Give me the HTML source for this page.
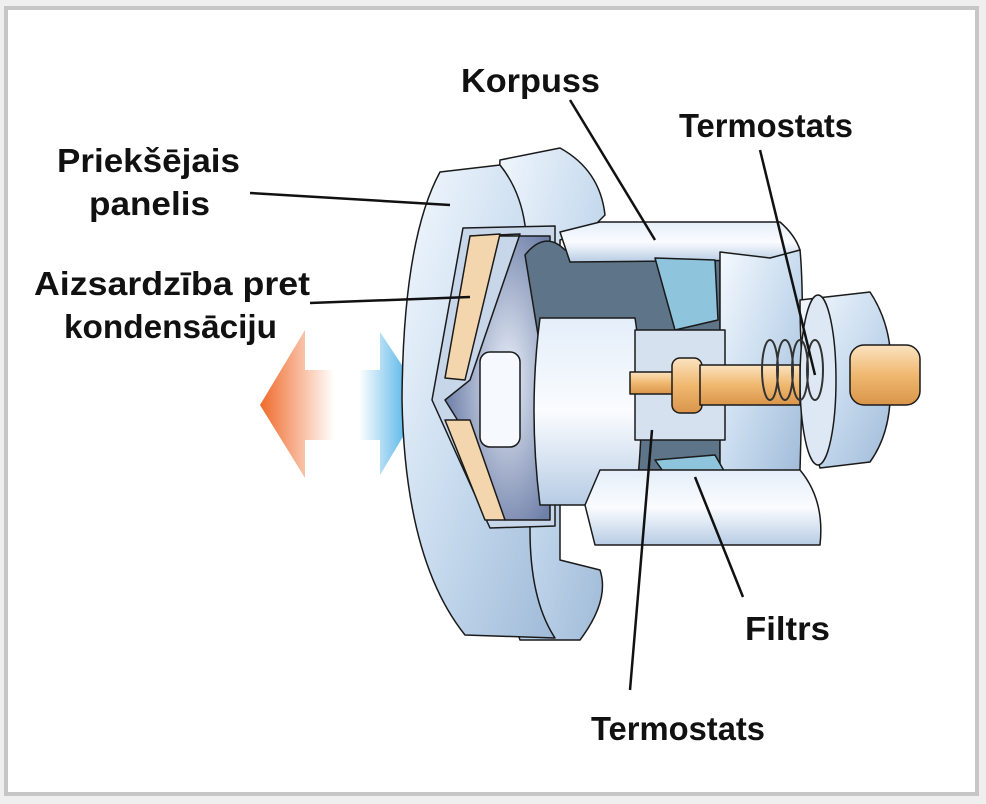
<!DOCTYPE html>
<html><head><meta charset="utf-8"><style>
html,body{margin:0;padding:0;background:#efefef;}
svg{display:block;}
text{font-family:"Liberation Sans",Arial,sans-serif;font-weight:bold;font-size:33px;fill:#111;}
</style></head><body>
<svg width="986" height="804" viewBox="0 0 986 804">
<defs>
<linearGradient id="arr" x1="0" x2="1" y1="0" y2="0">
<stop offset="0" stop-color="#ef6a2a"/><stop offset="0.45" stop-color="#fff"/><stop offset="0.6" stop-color="#fff"/><stop offset="1" stop-color="#1a9be0"/></linearGradient>
<linearGradient id="blu" x1="0" x2="1" y1="0" y2="1">
<stop offset="0" stop-color="#f4f9fe"/><stop offset="0.5" stop-color="#c9dcef"/><stop offset="1" stop-color="#9fbad8"/></linearGradient>
<linearGradient id="blu2" x1="0" x2="0" y1="0" y2="1">
<stop offset="0" stop-color="#e4eef9"/><stop offset="0.5" stop-color="#fafcff"/><stop offset="1" stop-color="#b7cce4"/></linearGradient>
<linearGradient id="brass" x1="0" x2="0" y1="0" y2="1">
<stop offset="0" stop-color="#fbe3c0"/><stop offset="0.5" stop-color="#f0b870"/><stop offset="1" stop-color="#d9954a"/></linearGradient>
<radialGradient id="cav" cx="0.6" cy="0.5" r="0.6">
<stop offset="0" stop-color="#e8eef8"/><stop offset="1" stop-color="#6e7fa8"/></radialGradient>
</defs>
<rect x="0" y="0" width="986" height="804" fill="#efefef"/>
<rect x="6" y="8" width="971" height="786" fill="#fff" stroke="#c6c6c6" stroke-width="4"/>

<!-- arrow -->
<path d="M260,405 L305,330 L305,370 L380,370 L380,332 L425,400 L380,475 L380,440 L305,440 L305,478 Z" fill="url(#arr)"/>

<g stroke="#1a1a1a" stroke-width="1.5" stroke-linejoin="round">
<path d="M500,160 L560,148 Q600,170 605,215 L590,230 L560,240 L560,560 L600,570 Q610,600 580,640 L520,640 Q480,520 490,380 Q495,240 500,160 Z" fill="url(#blu)"/>
<path d="M440,172 L500,165 Q520,190 525,225 L530,270 L530,530 Q530,600 555,638 L465,635 Q405,560 402,400 Q403,240 440,172 Z" fill="url(#blu)"/>
<path d="M463,228 L555,226 L555,526 L490,528 L432,400 Z" fill="#c8d6ea"/>
<path d="M470,236 L520,234 L470,380 L445,400 L470,440 L505,520 L550,520 L550,236 Z" fill="url(#cav)"/>
<path d="M470,236 L500,234 L465,380 L445,378 Z M445,420 L470,420 L505,520 L485,520 Z" fill="#f3d6ad"/>
<rect x="480" y="352" width="40" height="95" rx="10" fill="#f6f9fd"/>
<path d="M525,255 Q545,230 565,250 L720,252 L720,470 L560,470 Z" fill="#5e7488"/>
<path d="M560,232 L600,222 L780,222 Q795,235 800,250 L770,260 L570,262 Z" fill="url(#blu2)"/>
<path d="M720,252 L770,258 L800,250 Q805,300 800,470 L720,480 Z" fill="url(#blu)"/>
<path d="M655,258 L715,260 L718,320 L675,330 Z" fill="#8ec4dc"/>
<path d="M655,460 L715,455 L735,490 L680,495 Z" fill="#8ec4dc"/>
<path d="M540,318 L635,318 Q648,400 635,505 L540,505 Q528,410 540,318 Z" fill="url(#blu2)"/>
<path d="M635,330 L725,330 L725,440 L635,440 Z" fill="#d5e1ee"/>
<path d="M585,505 L600,470 L800,470 Q825,500 820,545 L595,545 Z" fill="url(#blu2)"/>
<path d="M800,300 L870,292 Q895,330 890,380 Q893,430 870,462 L820,468 Q800,400 800,300 Z" fill="url(#blu)"/>
<ellipse cx="818" cy="380" rx="18" ry="85" fill="#dde8f4"/>
<rect x="630" y="372" width="80" height="22" fill="url(#brass)"/>
<rect x="672" y="358" width="30" height="55" rx="8" fill="url(#brass)"/>
<rect x="700" y="365" width="100" height="40" fill="url(#brass)"/>
<rect x="850" y="345" width="70" height="60" rx="14" fill="url(#brass)"/>
</g>
<g fill="none" stroke="#333" stroke-width="2">
<ellipse cx="770" cy="370" rx="8" ry="30"/><ellipse cx="785" cy="370" rx="8" ry="30"/><ellipse cx="800" cy="370" rx="8" ry="30"/><ellipse cx="815" cy="370" rx="8" ry="30"/>
</g>

<g stroke="#111" stroke-width="2.5">
<line x1="570" y1="100" x2="655" y2="240"/>
<line x1="760" y1="150" x2="815" y2="375"/>
<line x1="250" y1="193" x2="450" y2="205"/>
<line x1="310" y1="303" x2="470" y2="297"/>
<line x1="743" y1="597" x2="695" y2="477"/>
<line x1="630" y1="690" x2="652" y2="430"/>
</g>

<text x="461" y="92" textLength="139" lengthAdjust="spacingAndGlyphs">Korpuss</text>
<text x="679" y="137" textLength="174" lengthAdjust="spacingAndGlyphs">Termostats</text>
<text x="57" y="172" textLength="183" lengthAdjust="spacingAndGlyphs">Priekšējais</text>
<text x="89" y="215" textLength="121" lengthAdjust="spacingAndGlyphs">panelis</text>
<text x="34" y="295" textLength="276" lengthAdjust="spacingAndGlyphs">Aizsardzība pret</text>
<text x="64" y="338" textLength="213" lengthAdjust="spacingAndGlyphs">kondensāciju</text>
<text x="745" y="640" textLength="85" lengthAdjust="spacingAndGlyphs">Filtrs</text>
<text x="591" y="740" textLength="174" lengthAdjust="spacingAndGlyphs">Termostats</text>
</svg>
</body></html>
